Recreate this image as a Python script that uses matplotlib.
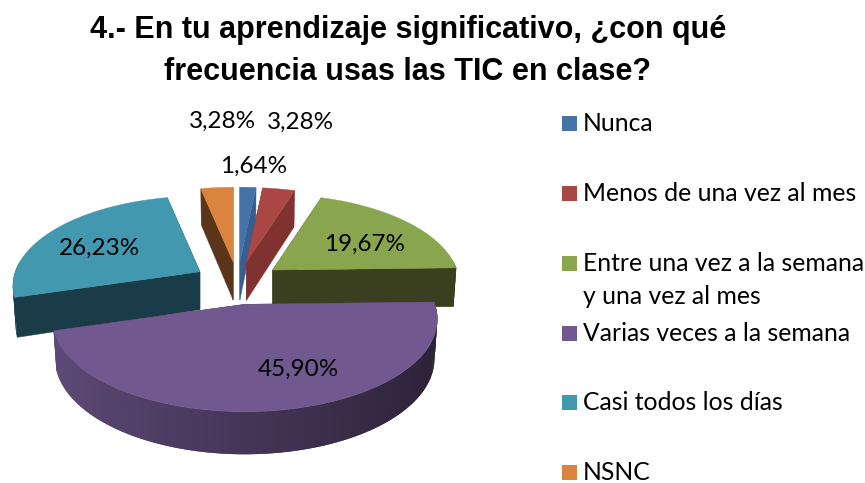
import numpy as np
import matplotlib
matplotlib.use("Agg")
import matplotlib.pyplot as plt
from matplotlib.patches import Polygon, Rectangle

title = "4.- En tu aprendizaje significativo, ¿con qué\nfrecuencia usas las TIC en clase?"
categories = ["Nunca", "Menos de una vez al mes", "Entre una vez a la semana\ny una vez al mes",
              "Varias veces a la semana", "Casi todos los días", "NSNC"]
values = [1.64, 3.28, 19.67, 45.90, 26.23, 3.28]
colors = ["#4572A7", "#AA4643", "#89A54E", "#71588F", "#4198AF", "#DB843D"]
dark_colors = ["#365F8F", "#7F3230", "#3A401F", "#3D2F50", "#1A3C48", "#5A3519"]

# where the percent labels sit, in pixels
label_pos = [(254, 166), (300, 122), (365, 244), (298, 369), (100, 248), (222, 121)]
legend_y = [123, 193, 263, 333, 402, 472]

# pie geometry, in pixels of the picture
cx, cy = 237.6, 282.5
rx, ry = 186.5, 88.5
persp = 0.16      # back of the disc looks smaller than the front
explode = 0.24
depth = 39.0

fig = plt.figure(figsize=(8.65, 4.83), dpi=100)
ax = fig.add_axes([0, 0, 1, 1])
ax.set_xlim(0, 865)
ax.set_ylim(483, 0)
ax.axis("off")


def project(u, v, size=1.0):
    w = 1 + persp * v
    return size * rx * u / w, -size * ry * v / w, w


def draw_slice(start, end, top_col, side_col, zorder, shaded=False):
    mid = np.radians((start + end) / 2)
    eu, ev = explode * np.sin(mid), explode * np.cos(mid)
    ax0, ay0, _ = project(eu, ev)
    ax0, ay0 = cx + ax0, cy + ay0
    size = 1 / (1 + 0.08 * ev)

    th = np.radians(np.linspace(start, end, max(int(end - start), 3) + 1))
    sx, sy, w = project(np.sin(th), np.cos(th), size)
    x_top = ax0 + sx
    y_top = ay0 + sy
    x_bot = ax0 + sx * 0.985
    y_bot = y_top + depth / np.sqrt(w)

    # the two cut faces
    for i in (0, -1):
        face = [(ax0, ay0), (x_top[i], y_top[i]), (x_bot[i], y_bot[i]), (ax0, ay0 + depth - 1)]
        ax.add_patch(Polygon(face, closed=True, fc=side_col, ec=side_col, lw=0.3, zorder=zorder))

    # outer wall, each quad runs under the next one so no seams show
    base = np.array(matplotlib.colors.to_rgb(top_col))
    for i in range(len(th) - 2, -1, -1):
        if np.cos(th[i]) > 0.1 and np.cos(th[i + 1]) > 0.1:
            continue
        col = side_col
        if shaded:
            col = base * np.interp(np.sin(th[i]), [-1, 1], [0.85, 0.38])
        j = min(i + 2, len(th) - 1)
        quad = [(x_top[i], y_top[i]), (x_top[i + 1], y_top[i + 1]), (x_top[j], y_top[j]),
                (x_bot[j], y_bot[j]), (x_bot[i + 1], y_bot[i + 1]), (x_bot[i], y_bot[i])]
        ax.add_patch(Polygon(quad, closed=True, fc=col, ec="none", zorder=zorder))

    top = [(ax0, ay0)] + list(zip(x_top, y_top))
    ax.add_patch(Polygon(top, closed=True, fc=top_col, ec=top_col, lw=0.3, zorder=zorder + 0.5))


edges = np.cumsum([0] + values) / sum(values) * 360
draw_order = [5, 0, 1, 2, 4, 3]
for n, i in enumerate(draw_order):
    draw_slice(edges[i], edges[i + 1], colors[i], dark_colors[i], 2 + n, shaded=(i == 3))

for v, (x, y) in zip(values, label_pos):
    ax.text(x, y, f"{v:.2f}".replace(".", ",") + "%", family="Lato", fontsize=17.5,
            color="black", ha="center", va="center", zorder=20)

for name, col, y in zip(categories, colors, legend_y):
    ax.add_patch(Rectangle((562, y - 7.5), 15, 15, fc=col, ec="none", zorder=20))
    for k, line in enumerate(name.split("\n")):
        ax.text(583, y + 8 + k * 33, line, family="Lato", fontsize=17.8, color="black",
                ha="left", va="baseline", zorder=20)

ax.text(408, 30, title.split("\n")[0], family="Liberation Sans", fontweight="bold",
        fontsize=22, color="black", ha="center", va="center")
ax.text(408, 72, title.split("\n")[1], family="Liberation Sans", fontweight="bold",
        fontsize=22, color="black", ha="center", va="center")

fig.savefig("out.png", dpi=100)
